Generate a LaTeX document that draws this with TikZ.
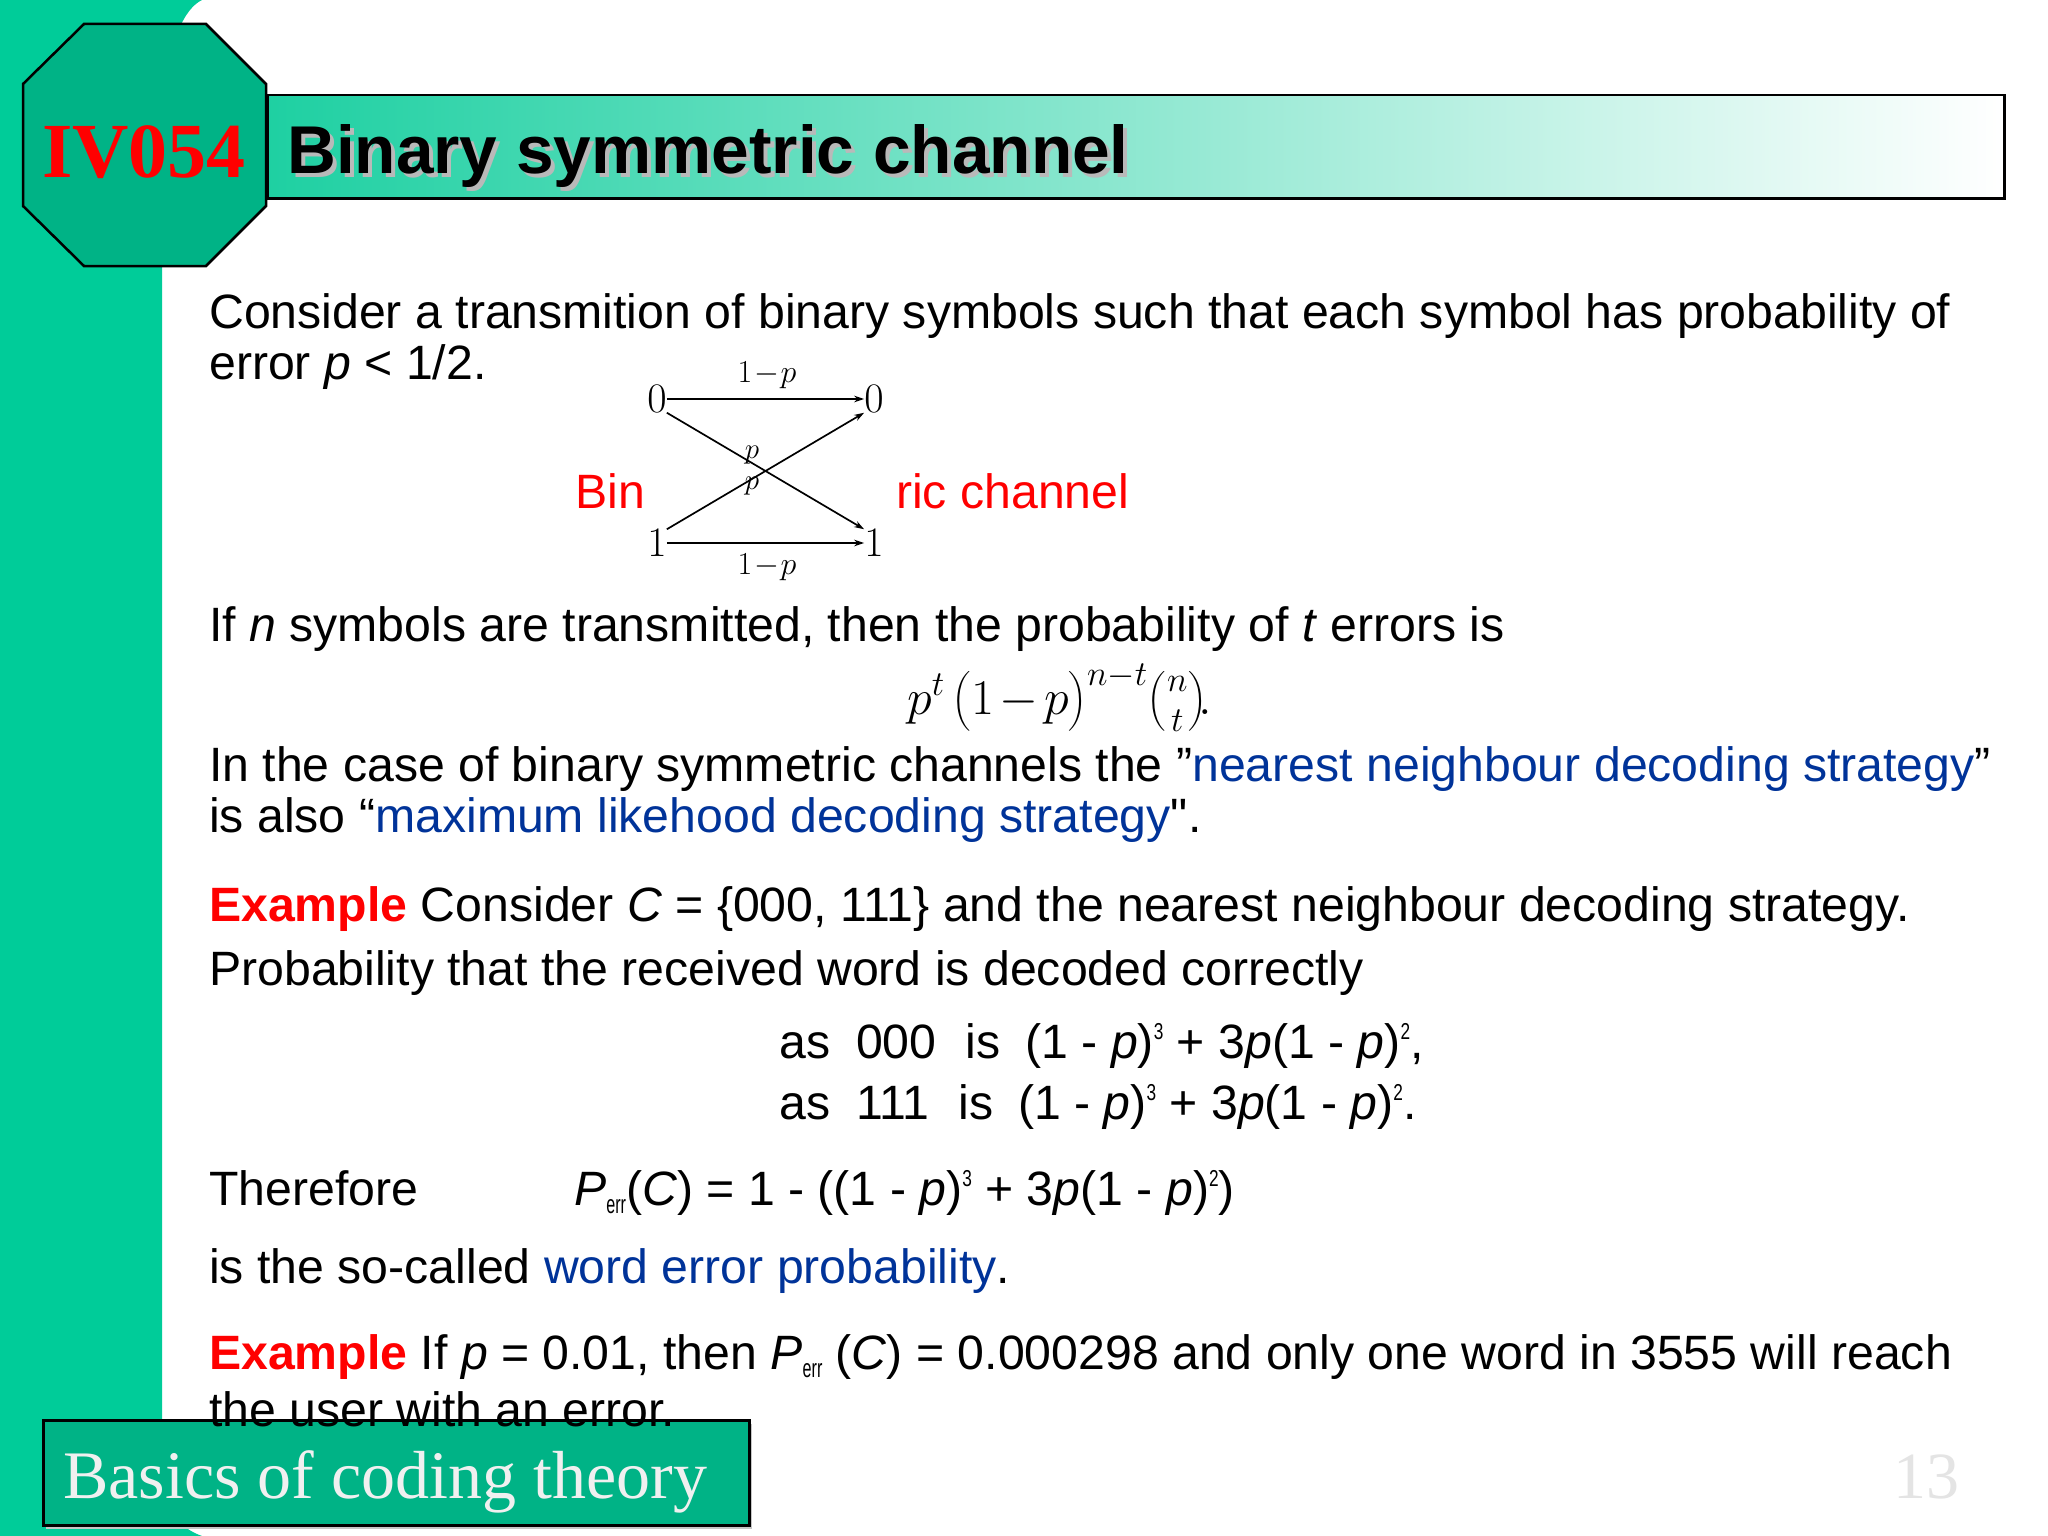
\RequirePackage{fix-cm}
\documentclass[tikz,border=0pt]{standalone}
\usepackage{amsmath}
\usepackage[no-math]{fontspec}
\setmainfont{Liberation Sans}
\newfontfamily\timesf{Liberation Serif}
\newfontfamily\rawsans{Liberation Sans}
\usepackage{graphicx}
\usetikzlibrary{arrows.meta}
\definecolor{band}{RGB}{0,204,153}
\definecolor{octfill}{RGB}{0,179,134}
\definecolor{barleft}{RGB}{30,208,162}
\definecolor{linkblue}{RGB}{0,51,153}
\definecolor{exred}{RGB}{255,0,0}
\definecolor{numgray}{RGB}{228,228,228}
\newcommand{\mysup}[1]{\raisebox{19pt}{\fontsize{23}{23}\selectfont\scalebox{0.75}[1]{#1}}}
\newcommand{\myerr}{\raisebox{-8pt}{\fontsize{26}{26}\selectfont\scalebox{0.62}[1]{err}}}
\newcommand{\lnk}[1]{\textcolor{linkblue}{#1}}
\newcommand{\exword}{\textcolor{exred}{\bfseries Example}}
\begin{document}
\begin{tikzpicture}[x=1pt,y=-1pt,
  txt/.style={anchor=base west,inner sep=0pt,font=\fontsize{48.2}{58}\selectfont},
  dgn/.style={inner sep=0pt,font=\fontsize{42}{42}\selectfont},
  dgl/.style={inner sep=0pt,font=\fontsize{32}{32}\selectfont},
  dgp/.style={inner sep=0pt,font=\fontsize{29}{29}\selectfont},
  dga/.style={line width=1.7pt,-{Stealth[length=10pt,width=6.5pt]}},
  titlefont/.style={anchor=base west,inner sep=0pt,font=\bfseries\fontsize{67.6}{70}\selectfont}
]
\useasboundingbox (0,0) rectangle (2048,1536);
\fill[white] (0,0) rectangle (2048,1536);
% left band
\fill[band] (0,0) -- (202,0) .. controls (185,8) and (168,40) .. (162,110) -- (162,1490) .. controls (166,1515) and (185,1530) .. (202,1536) -- (0,1536) -- cycle;
% title bar
\node[draw,line width=2.5pt,left color=barleft,right color=white,minimum width=1737pt,minimum height=103pt,anchor=north west,inner sep=0pt] (bar) at (266,94) {};
% octagon
\draw[fill=octfill,line width=2.5pt] (84,24) -- (206,24) -- (266,84) -- (266,206) -- (206,266) -- (84,266) -- (23,206) -- (23,84) -- cycle;
\node[anchor=base west,inner sep=0pt,font=\timesf\bfseries\fontsize{78}{78}\selectfont,text=exred] (code) at (42,177) {IV054};
\node[titlefont,text=gray!55] (tshadow) at (291,177) {Binary symmetric channel};
\node[titlefont] (title) at (287,173) {Binary symmetric channel};

% body
\node[txt] (l1) at (209,328) {Consider a transmition of binary symbols such that each symbol has probability of};
\node[txt] (l2) at (209,379) {error \textit{p} < 1/2.};

% diagram
\node[txt,text=exred] (bin) at (575,508) {Bin};
\node[txt,text=exred] (ric) at (896,508) {ric channel};
\node[dgn] (a0) at (657,399) {$0$};
\node[dgn] (b0) at (874,399) {$0$};
\node[dgn] (a1) at (657,543) {$1$};
\node[dgn] (b1) at (874,543) {$1$};
\draw[dga] (a0.east) -- (b0.west);
\draw[dga] (a1.east) -- (b1.west);
\draw[dga] (a0.south east) -- (b1.north west);
\draw[dga] (a1.north east) -- (b0.south west);
\node[dgl] (qt) at (767,375) {$1\!-\!p$};
\node[dgl] (qb) at (767,567) {$1\!-\!p$};
\node[dgp] (pu) at (752,455) {$p$};
\node[dgp] (pl) at (752,486) {$p$};

\node[txt] (l3) at (209,641) {If \textit{n} symbols are transmitted, then the probability of \textit{t} errors is};
\node[anchor=base west,inner sep=0pt,font=\fontsize{50}{60}\selectfont] (fm) at (907,714) {$p^{t}\,\bigl(1\mathbin{\mkern-2mu-\mkern-2mu}p\bigr)^{n-t}\bigl(\genfrac{}{}{0pt}{1}{n}{t}\bigr)\!.$};
\node[txt] (l4) at (209,781) {In the case of binary symmetric channels the ”\lnk{nearest neighbour decoding strategy}”};
\node[txt] (l5) at (209,832) {is also “\lnk{maximum likehood decoding strategy}{\rawsans "}.};
\node[txt] (l6) at (209,921) {\exword{} Consider \textit{C} = \{000, 111\} and the nearest neighbour decoding strategy.};
\node[txt] (l7) at (209,985) {Probability that the received word is decoded correctly};
\node[txt] (l8) at (779,1058) {as\hspace{26pt}000\hspace{29pt}is\hspace{25pt}(1 - \textit{p})\mysup{3} + 3\textit{p}(1 - \textit{p})\mysup{2},};
\node[txt] (l9) at (779,1119) {as\hspace{26pt}111\hspace{29pt}is\hspace{25pt}(1 - \textit{p})\mysup{3} + 3\textit{p}(1 - \textit{p})\mysup{2}.};
\node[txt] (l10) at (209,1205) {Therefore};
\node[txt] (l10b) at (574,1205) {\textit{P}\myerr(\textit{C}) = 1 - ((1 - \textit{p})\mysup{3} + 3\textit{p}(1 - \textit{p})\mysup{2})};
\node[txt] (l11) at (209,1283) {is the so-called \lnk{word error probability}.};
\node[txt] (l12) at (209,1369) {\exword{} If \textit{p} = 0.01, then \textit{P}\myerr{} (\textit{C}) = 0.000298 and only one word in 3555 will reach};

% footer
\fill[gray!45] (46,1424) rectangle (752,1529);
\node[draw,line width=2.5pt,fill=octfill,minimum width=706pt,minimum height=105pt,anchor=north west,inner sep=0pt] (foot) at (42,1419) {};
\node[anchor=base west,inner sep=0pt,font=\timesf\fontsize{68}{68}\selectfont,text=white!94!black] (foottxt) at (63,1498) {Basics of coding theory};
\node[anchor=base west,inner sep=0pt,font=\timesf\fontsize{66}{66}\selectfont,text=numgray] (pagenum) at (1893,1498) {13};
\node[txt] (l13) at (209,1426) {the user with an error.};
\end{tikzpicture}
\end{document}
